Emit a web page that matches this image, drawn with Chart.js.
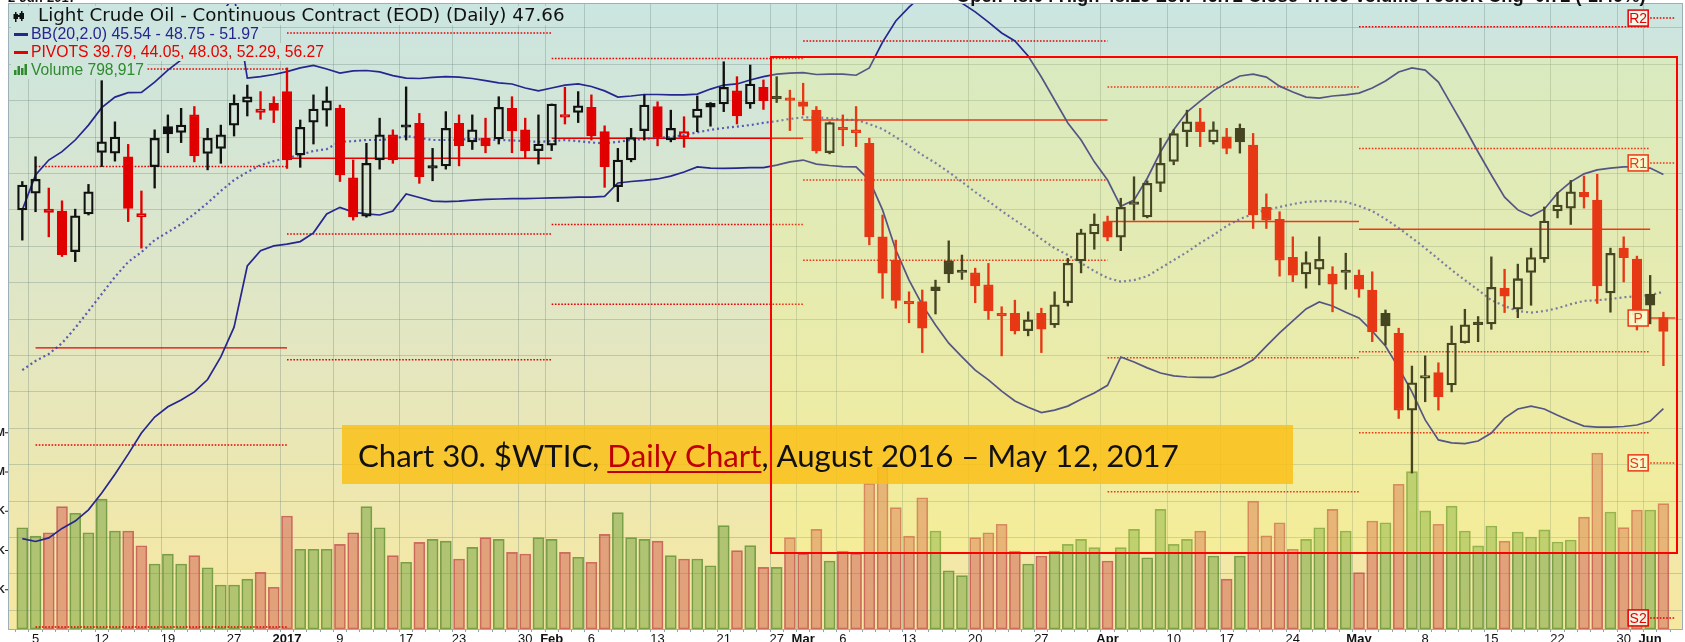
<!DOCTYPE html>
<html>
<head>
<meta charset="utf-8">
<script src="https://cdn.jsdelivr.net/npm/chart.js@4.4.1/dist/chart.umd.min.js"></script>
<style>
  html, body { margin: 0; padding: 0; background: #fff; }
  #wrap { width: 1685px; height: 642px; }
</style>
</head>
<body>
<div id="wrap"><canvas id="chart" width="1685" height="642"></canvas></div>
<script>
// trading sessions, Dec 2 2016 .. Jun 2 2017
const sessions = [
  '12/02','12/05','12/06','12/07','12/08','12/09','12/12','12/13','12/14','12/15','12/16','12/19','12/20','12/21','12/22','12/23','12/27','12/28','12/29','12/30',
  '01/03','01/04','01/05','01/06','01/09','01/10','01/11','01/12','01/13','01/17','01/18','01/19','01/20','01/23','01/24','01/25','01/26','01/27','01/30','01/31',
  '02/01','02/02','02/03','02/06','02/07','02/08','02/09','02/10','02/13','02/14','02/15','02/16','02/17','02/21','02/22','02/23','02/24','02/27','02/28',
  '03/01','03/02','03/03','03/06','03/07','03/08','03/09','03/10','03/13','03/14','03/15','03/16','03/17','03/20','03/21','03/22','03/23','03/24','03/27','03/28','03/29','03/30','03/31',
  '04/03','04/04','04/05','04/06','04/07','04/10','04/11','04/12','04/13','04/17','04/18','04/19','04/20','04/21','04/24','04/25','04/26','04/27','04/28',
  '05/01','05/02','05/03','05/04','05/05','05/08','05/09','05/10','05/11','05/12','05/15','05/16','05/17','05/18','05/19','05/22','05/23','05/24','05/25','05/26','05/30','05/31',
  '06/01','06/02'
];

const open = [
  51.00, 51.46, 51.02, 50.97, 49.85, 50.89, 52.58, 52.56, 52.46, 50.81, 52.19, 53.29, 53.13, 53.61, 52.55, 52.69, 53.33, 53.96, 53.68, 53.93,
  54.25, 52.51, 53.41, 53.74, 53.79, 51.88, 50.83, 52.37, 53.06, 53.33, 53.38, 52.20, 52.21, 53.38, 52.87, 52.97, 52.95, 53.79, 53.20, 52.63,
  52.78, 53.62, 53.68, 53.82, 53.15, 51.64, 52.37, 53.18, 53.84, 52.92, 52.99, 53.54, 53.93, 53.91, 54.27, 53.91, 54.37, 54.09, 54.03,
  53.97, 53.74, 52.57, 53.25, 53.20, 52.83, 50.26, 49.62, 48.48, 48.48, 48.78, 49.60, 49.33, 49.27, 48.94, 48.14, 48.16, 47.68, 48.16, 47.84, 48.45, 49.60, 50.34,
  50.68, 50.25, 51.20, 50.81, 51.73, 52.33, 53.15, 53.42, 52.87, 53.01, 53.24, 52.78, 51.07, 50.74, 49.70, 49.24, 49.37, 49.24, 49.33,
  49.21, 48.80, 48.16, 47.61, 45.50, 46.38, 46.53, 46.19, 47.35, 47.86, 47.87, 48.85, 48.27, 49.28, 49.65, 50.97, 51.05, 51.48, 51.27, 48.72, 49.95, 49.65,
  48.69, 48.04
];
const high = [
  51.78, 52.46, 51.60, 51.25, 51.02, 51.70, 54.55, 53.42, 52.80, 51.52, 53.20, 53.61, 53.79, 53.84, 53.24, 53.33, 54.16, 54.43, 54.25, 54.11,
  54.90, 53.47, 54.16, 54.38, 53.88, 52.37, 52.83, 53.52, 53.20, 54.38, 53.65, 52.69, 53.70, 53.61, 53.61, 53.52, 54.11, 54.11, 53.52, 53.61,
  53.91, 54.37, 54.25, 54.16, 53.31, 52.69, 53.24, 54.16, 53.97, 53.74, 53.56, 54.13, 53.95, 55.07, 54.66, 54.98, 54.57, 54.66, 54.29,
  54.48, 53.84, 53.42, 53.61, 53.84, 52.97, 50.86, 50.17, 48.75, 48.80, 49.07, 50.15, 49.76, 49.40, 49.53, 48.34, 48.52, 48.20, 48.30, 48.75, 49.67, 50.47, 50.89,
  50.83, 51.32, 51.91, 51.80, 52.97, 53.20, 53.74, 53.79, 53.42, 53.24, 53.36, 53.10, 51.44, 50.95, 50.26, 49.85, 50.26, 49.44, 49.81,
  49.35, 49.30, 48.25, 47.75, 46.71, 46.99, 46.80, 47.81, 48.27, 48.07, 49.71, 49.37, 49.51, 49.95, 51.08, 51.48, 51.81, 51.93, 51.98, 49.95, 50.26, 49.73,
  49.20, 48.19
];
const low = [
  50.17, 50.95, 50.26, 49.72, 49.58, 50.86, 52.19, 52.34, 50.68, 49.95, 51.60, 52.57, 52.85, 52.32, 52.10, 52.28, 53.03, 53.58, 53.49, 53.40,
  52.14, 52.17, 52.81, 53.30, 51.78, 50.72, 50.80, 52.12, 52.28, 52.92, 51.73, 51.80, 52.12, 52.21, 52.66, 52.57, 52.81, 52.57, 52.42, 52.26,
  52.63, 53.36, 53.40, 52.92, 51.62, 51.23, 52.32, 52.92, 52.76, 52.87, 52.72, 53.15, 53.30, 53.70, 53.36, 53.79, 53.76, 53.95, 53.18,
  53.61, 52.56, 52.54, 52.76, 52.74, 50.04, 48.57, 48.30, 47.90, 47.08, 48.14, 49.00, 49.09, 48.45, 47.99, 46.99, 47.59, 47.54, 47.08, 47.77, 48.36, 49.27, 49.92,
  50.15, 49.88, 50.72, 50.78, 51.50, 52.24, 52.74, 52.74, 52.81, 52.54, 52.56, 50.49, 50.49, 49.18, 49.03, 48.85, 48.94, 48.20, 48.82,
  48.60, 47.38, 47.29, 45.27, 43.77, 45.73, 45.50, 46.00, 47.34, 47.38, 47.72, 48.18, 48.04, 48.38, 49.56, 50.78, 50.60, 51.05, 48.43, 48.19, 49.02, 47.70,
  47.87, 46.72
];
const close = [
  51.68, 51.84, 50.93, 49.77, 50.84, 51.50, 52.87, 53.00, 51.04, 50.90, 52.97, 53.09, 53.33, 52.48, 52.97, 53.06, 53.93, 54.11, 53.77, 53.73,
  52.37, 53.27, 53.77, 54.00, 51.96, 50.81, 52.28, 53.06, 52.37, 53.27, 51.91, 52.15, 53.24, 52.76, 53.20, 52.76, 53.82, 53.17, 52.63, 52.81,
  53.91, 53.55, 53.86, 53.03, 52.19, 52.37, 52.99, 53.88, 52.99, 53.24, 53.15, 53.77, 53.82, 54.37, 53.58, 54.46, 54.00, 54.05, 54.01,
  53.84, 52.62, 53.40, 53.20, 53.12, 50.26, 49.26, 48.51, 48.42, 47.75, 48.89, 49.24, 49.28, 48.91, 48.23, 48.09, 47.68, 47.98, 47.72, 48.39, 49.53, 50.37, 50.61,
  50.25, 51.07, 51.15, 51.73, 52.28, 53.10, 53.42, 53.15, 53.20, 52.69, 52.87, 50.86, 50.72, 49.62, 49.21, 49.55, 49.64, 48.96, 49.28,
  48.82, 47.65, 47.81, 45.50, 46.25, 46.45, 45.87, 47.34, 47.84, 47.85, 48.87, 48.63, 49.11, 49.69, 50.69, 51.13, 51.50, 51.36, 48.91, 49.81, 49.69, 48.10,
  48.38, 47.66
];
// volume in thousands of contracts
const volumeK = [
  645, 592, 613, 779, 737, 613, 827, 624, 624, 530, 414, 477, 414, 467, 390, 280, 280, 318, 361, 266,
  720, 508, 508, 508, 539, 613, 779, 645, 467, 425, 552, 571, 560, 446, 520, 582, 571, 488, 478, 582,
  571, 488, 457, 425, 603, 741, 582, 571, 560, 467, 446, 446, 403, 658, 499, 531, 393, 393, 582,
  480, 635, 433, 497, 482, 928, 1030, 773, 592, 836, 624, 371, 340, 582, 613, 667, 497, 414, 465, 497, 539, 571, 518,
  433, 518, 635, 454, 762, 539, 571, 624, 465, 318, 465, 815, 594, 677, 508, 571, 645, 762, 624,
  359, 688, 677, 922, 1002, 752, 667, 783, 624, 529, 656, 560, 618, 586, 631, 554, 567, 713, 1121, 745, 646, 758,
  758, 798.917
];

// Bollinger Bands (20, 2.0)
const bbUpper = [
  51.00, 51.96, 52.37, 52.60, 52.92, 53.33, 53.81, 54.10, 54.22, 54.23, 54.51, 54.84, 55.12, 55.53, 55.94, 56.35, 56.90, 54.62, 54.66, 54.72,
  54.80, 54.90, 54.97, 54.87, 54.76, 54.82, 54.83, 54.79, 54.69, 54.62, 54.61, 54.64, 54.66, 54.65, 54.61, 54.55, 54.49, 54.46, 54.35, 54.27,
  54.35, 54.43, 54.46, 54.39, 54.27, 54.10, 54.13, 54.17, 54.17, 54.16, 54.16, 54.18, 54.32, 54.43, 54.46, 54.57, 54.66, 54.73, 54.76,
  54.77, 54.72, 54.73, 54.73, 54.70, 54.90, 55.61, 56.19, 56.57, 56.90, 57.04, 56.90, 56.68, 56.44, 56.16, 55.86, 55.64, 55.23, 54.65, 54.02, 53.39, 52.92, 52.32,
  51.82, 51.10, 51.27, 51.87, 52.59, 53.20, 53.69, 53.99, 54.27, 54.49, 54.68, 54.73, 54.65, 54.40, 54.24, 54.10, 54.07, 54.13, 54.16,
  54.21, 54.35, 54.54, 54.79, 54.90, 54.84, 54.51, 53.88, 53.25, 52.59, 51.96, 51.35, 51.00, 50.83, 51.02, 51.46, 51.77, 51.99, 52.10, 52.15, 52.18, 52.18,
  52.15, 51.97
];
const bbMiddle = [
  46.60, 46.85, 47.04, 47.34, 47.76, 48.22, 48.69, 49.16, 49.57, 49.84, 50.17, 50.39, 50.61, 50.89, 51.19, 51.52, 51.82, 52.04, 52.23, 52.34,
  52.43, 52.51, 52.62, 52.67, 52.87, 52.89, 52.92, 52.92, 52.95, 53.03, 52.98, 52.92, 52.92, 52.93, 52.95, 52.93, 52.92, 52.91, 52.89, 52.87,
  52.89, 52.92, 52.89, 52.85, 52.83, 52.87, 52.92, 52.95, 52.98, 53.00, 53.06, 53.13, 53.20, 53.25, 53.29, 53.33, 53.39, 53.44, 53.50,
  53.54, 53.54, 53.52, 53.48, 53.47, 53.36, 53.22, 53.00, 52.76, 52.51, 52.29, 52.04, 51.77, 51.49, 51.24, 50.97, 50.72, 50.48, 50.20, 49.95, 49.76, 49.54, 49.32,
  49.13, 49.03, 49.07, 49.18, 49.40, 49.62, 49.84, 50.09, 50.31, 50.56, 50.75, 50.89, 51.00, 51.08, 51.16, 51.22, 51.24, 51.24, 51.22,
  51.11, 50.97, 50.75, 50.50, 50.23, 49.95, 49.65, 49.35, 49.07, 48.80, 48.52, 48.36, 48.22, 48.18, 48.22, 48.30, 48.41, 48.50, 48.52, 48.55, 48.60, 48.63,
  48.66, 48.75
];
const bbLower = [
  41.97, 41.89, 41.99, 42.25, 42.45, 42.76, 43.22, 43.74, 44.29, 44.87, 45.31, 45.59, 45.78, 46.00, 46.34, 46.96, 47.78, 49.46, 49.88, 50.01,
  50.06, 50.13, 50.37, 50.89, 51.07, 50.94, 50.89, 50.86, 50.97, 51.44, 51.34, 51.24, 51.23, 51.24, 51.27, 51.29, 51.30, 51.31, 51.31, 51.32,
  51.33, 51.34, 51.35, 51.35, 51.37, 51.74, 51.78, 51.81, 51.85, 51.93, 52.04, 52.18, 52.15, 52.14, 52.15, 52.16, 52.16, 52.23, 52.32,
  52.37, 52.26, 52.22, 52.19, 52.18, 51.82, 51.00, 49.90, 49.07, 48.39, 47.84, 47.34, 46.96, 46.60, 46.33, 46.02, 45.75, 45.58, 45.43, 45.50, 45.61, 45.80, 45.97,
  46.18, 46.96, 46.82, 46.66, 46.52, 46.44, 46.41, 46.40, 46.40, 46.52, 46.68, 46.88, 47.26, 47.62, 47.95, 48.28, 48.47, 48.36, 48.19,
  48.03, 47.67, 47.26, 46.66, 46.00, 45.23, 44.68, 44.60, 44.58, 44.65, 44.87, 45.28, 45.53, 45.61, 45.53, 45.36, 45.20, 45.06, 45.03, 45.03, 45.05, 45.09,
  45.20, 45.54
];

// monthly pivot points: first session each level applies from
const pivotStart = ['12/05', '01/03', '02/01', '03/01', '04/03', '05/01', '06/01'];
const pivotR2 = [54.87, 57.97, 57.52, 57.29, 58.10, 56.03, 56.27];
const pivotR1 = [52.19, 55.86, 55.16, 55.64, 54.38, 52.69, 52.29];
const pivotP  = [47.21, 52.42, 52.97, 53.47, 50.68, 50.47, 48.03];
const pivotS1 = [44.54, 50.34, 50.60, 51.82, 46.94, 47.10, 44.05];
const pivotS2 = [39.54, 46.88, 48.41, 49.62, 43.26, 44.88, 39.79];

const tickDates  = ['12/05','12/12','12/19','12/27','01/03','01/09','01/17','01/23','01/30','02/01','02/06','02/13','02/21','02/27','03/01','03/06','03/13','03/20','03/27','04/03','04/10','04/17','04/24','05/01','05/08','05/15','05/22','05/30','06/01'];
const tickLabels = ['5','12','19','27','2017','9','17','23','30','Feb','6','13','21','27','Mar','6','13','20','27','Apr','10','17','24','May','8','15','22','30','Jun'];
const priceGrid = [40, 41, 42, 43, 44, 45, 46, 47, 48, 49, 50, 51, 52, 53, 54, 55, 56];
const volumeTicks = [250, 500, 750, 1000, 1250];
const volumeTickLabels = ['250K', '500K', '750K', '1M', '1.25M'];

const PRICE_MIN = 39.486, PRICE_MAX = 56.657;
const VOL_MAX = 3981;
const X_MIN = -0.5, X_MAX = 124.9;

const GRID = 'rgba(105,130,120,0.32)';
const RED = '#e60000';
const NAVY = '#26268f';

const tickText = {};
tickDates.forEach((d, k) => { tickText[sessions.indexOf(d)] = tickLabels[k]; });

const up = close.map((c, i) => i === 0 ? c >= open[i] : c >= close[i - 1]);
const candleColor = up.map(u => u ? '#111111' : '#e00000');
const candleFill = close.map((c, i) => c > open[i] ? 'rgba(0,0,0,0)' : candleColor[i]);

const datasets = [];

// candle bodies
datasets.push({
  type: 'bar', yAxisID: 'y', order: 10, grouped: false,
  data: sessions.map((_, i) => ({ x: i, y: [open[i], close[i]] })),
  backgroundColor: candleFill, borderColor: candleColor,
  borderWidth: 1.6, borderSkipped: false, barThickness: 9.5, minBarLength: 2.5
});
// wicks above and below the body
datasets.push({
  type: 'bar', yAxisID: 'y', order: 20, grouped: false,
  data: sessions.map((_, i) => ({ x: i, y: [Math.max(open[i], close[i]), high[i]] })),
  backgroundColor: candleColor, borderWidth: 0, barThickness: 1.7
});
datasets.push({
  type: 'bar', yAxisID: 'y', order: 20, grouped: false,
  data: sessions.map((_, i) => ({ x: i, y: [low[i], Math.min(open[i], close[i])] })),
  backgroundColor: candleColor, borderWidth: 0, barThickness: 1.7
});

// Bollinger Bands
[[bbUpper, []], [bbMiddle, [2, 3]], [bbLower, []]].forEach(([band, dash]) => {
  datasets.push({
    type: 'line', yAxisID: 'y', order: 30,
    data: band.map((v, i) => ({ x: i, y: v })),
    borderColor: dash.length ? 'rgba(55,55,170,0.8)' : NAVY,
    borderWidth: dash.length ? 2.2 : 1.7, borderDash: dash,
    pointRadius: 0, tension: 0
  });
});

// pivot segments, one per month and level
[[pivotR2, true], [pivotR1, true], [pivotP, false], [pivotS1, true], [pivotS2, true]].forEach(([level, dotted]) => {
  pivotStart.forEach((d, m) => {
    const from = sessions.indexOf(d);
    const to = m + 1 < pivotStart.length ? sessions.indexOf(pivotStart[m + 1]) : X_MAX;
    datasets.push({
      type: 'line', yAxisID: 'y', order: 40,
      data: [{ x: from, y: level[m] }, { x: to, y: level[m] }],
      borderColor: RED, borderWidth: dotted ? 1.5 : 1.4,
      borderDash: dotted ? [1.6, 1.6] : [],
      pointRadius: 0
    });
  });
});

// volume
datasets.push({
  type: 'bar', yAxisID: 'v', order: 50, grouped: false,
  data: sessions.map((_, i) => ({ x: i, y: volumeK[i] })),
  backgroundColor: up.map(u => u ? 'rgba(110,160,60,0.5)' : 'rgba(205,85,75,0.48)'),
  borderColor: up.map(u => u ? 'rgba(95,140,50,0.8)' : 'rgba(195,80,80,0.8)'),
  borderWidth: 1, borderSkipped: false, barThickness: 11
});

const backdrop = {
  id: 'backdrop',
  beforeDraw(chart) {
    const { ctx, chartArea: a } = chart;
    ctx.save();
    ctx.fillStyle = '#ffffff';
    ctx.fillRect(0, 0, chart.width, chart.height);
    const g = ctx.createLinearGradient(0, a.top, 0, a.bottom);
    g.addColorStop(0, '#cbe5e1');
    g.addColorStop(0.45, '#dfe6c7');
    g.addColorStop(1, '#f7e8a0');
    chart.$bg = g;
    ctx.fillStyle = g;
    ctx.fillRect(a.left, a.top, a.right - a.left, a.bottom - a.top);
    ctx.restore();
  }
};

function fitFont(ctx, text, weight, family, width) {
  ctx.font = `${weight} 20px ${family}`;
  const w = ctx.measureText(text).width;
  return `${weight} ${(20 * width / w).toFixed(2)}px ${family}`;
}

const overlay = {
  id: 'overlay',
  afterDraw(chart) {
    const { ctx, chartArea: a } = chart;
    const xs = chart.scales.x, ys = chart.scales.y, vs = chart.scales.v;
    const last = close.length - 1;
    ctx.save();

    // frame
    ctx.strokeStyle = '#9db0b8';
    ctx.lineWidth = 1;
    ctx.strokeRect(a.left - 0.5, a.top - 0.5, a.right - a.left + 1, a.bottom - a.top + 1);

    // current pivot tags
    const tagX = xs.getPixelForValue(sessions.indexOf(pivotStart[pivotStart.length - 1])) - 2;
    [['R2', pivotR2], ['R1', pivotR1], ['P', pivotP], ['S1', pivotS1], ['S2', pivotS2]].forEach(([name, lv]) => {
      const y = ys.getPixelForValue(lv[lv.length - 1]);
      const w = 20, h = 16;
      ctx.fillStyle = 'rgba(246,250,236,0.92)';
      ctx.fillRect(tagX - w, y - h / 2, w, h);
      ctx.strokeStyle = RED;
      ctx.lineWidth = 1.5;
      ctx.strokeRect(tagX - w, y - h / 2, w, h);
      ctx.fillStyle = RED;
      ctx.font = '14px "Liberation Sans Narrow", "Liberation Sans", sans-serif';
      ctx.textAlign = 'center';
      ctx.textBaseline = 'middle';
      ctx.fillText(name, tagX - w / 2, y + 1);
    });

    // legend rows sit on plain backdrop
    ctx.textAlign = 'left';
    ctx.textBaseline = 'alphabetic';
    ctx.fillStyle = chart.$bg;
    ctx.fillRect(11, 6, 557, 19);
    ctx.fillRect(11, 25, 251, 18);
    ctx.fillRect(11, 43, 316, 18);
    ctx.fillRect(11, 61, 136, 18);

    const title = `Light Crude Oil - Continuous Contract (EOD) (Daily) ${close[last].toFixed(2)}`;
    ctx.font = fitFont(ctx, title, 'normal', '"DejaVu Sans", Verdana, sans-serif', 527);
    ctx.fillStyle = '#111';
    ctx.fillText(title, 38, 21);
    // candle glyph
    ctx.fillRect(15, 12, 1.5, 10); ctx.fillRect(13.5, 14, 4.5, 5);
    ctx.fillRect(21, 11, 1.5, 10); ctx.fillRect(19.5, 13, 4.5, 6);
    ctx.fillRect(18, 15, 2, 2);

    const narrow = '"Liberation Sans Narrow", "Liberation Sans", sans-serif';
    const bbText = `BB(20,2.0) ${bbLower[last].toFixed(2)} - ${bbMiddle[last].toFixed(2)} - ${bbUpper[last].toFixed(2)}`;
    ctx.fillStyle = NAVY;
    ctx.fillRect(14, 33, 14, 3);
    ctx.font = fitFont(ctx, bbText, 'normal', narrow, 228);
    ctx.fillText(bbText, 31, 39);

    const pvText = 'PIVOTS ' + [pivotS2, pivotS1, pivotP, pivotR1, pivotR2].map(l => l[l.length - 1].toFixed(2)).join(', ');
    ctx.fillStyle = RED;
    ctx.fillRect(14, 51, 14, 3);
    ctx.font = fitFont(ctx, pvText, 'normal', narrow, 293);
    ctx.fillText(pvText, 31, 57);

    const volText = `Volume ${Math.round(volumeK[last] * 1000).toLocaleString('en-US')}`;
    ctx.fillStyle = '#2f8a2f';
    [[14, 70], [17.5, 66], [21, 68], [24.5, 64]].forEach(([x, t]) => ctx.fillRect(x, t, 2.5, 75 - t));
    ctx.font = fitFont(ctx, volText, 'normal', narrow, 113);
    ctx.fillText(volText, 31, 75);

    // quote line along the top edge
    const chg = close[last] - close[last - 1];
    const quote = `Open ${open[last].toFixed(2)} High ${high[last].toFixed(2)} Low ${low[last].toFixed(2)} Close ${close[last].toFixed(2)} Volume ${volumeK[last].toFixed(1)}K Chg ${chg.toFixed(2)} (${(chg / close[last - 1] * 100).toFixed(2)}%)`;
    ctx.fillStyle = '#111';
    ctx.font = fitFont(ctx, quote, 'bold', '"Liberation Sans", Arial, sans-serif', 690);
    ctx.fillText(quote, 956, 2);
    ctx.font = 'bold 13px "Liberation Sans", Arial, sans-serif';
    ctx.fillText('2-Jun-2017', 8, 2);

    // volume axis labels on the left edge
    ctx.font = 'bold 11px "Liberation Sans", Arial, sans-serif';
    ctx.textAlign = 'right';
    ctx.textBaseline = 'middle';
    volumeTicks.forEach((v, k) => {
      const y = vs.getPixelForValue(v);
      ctx.fillStyle = '#222';
      ctx.fillText(volumeTickLabels[k], 5, y);
      ctx.fillRect(5, y - 0.5, 3, 1);
    });

    // highlighted window
    const rx = 771, ry = 57, rw = 906, rh = 496;
    ctx.fillStyle = 'rgba(255,255,95,0.22)';
    ctx.fillRect(rx, ry, rw, rh);

    // caption
    ctx.fillStyle = 'rgba(250,192,22,0.84)';
    ctx.fillRect(342, 425, 951, 59);
    const parts = [['Chart 30. $WTIC, ', '#111'], ['Daily Chart', '#c00000'], [', August 2016 \u2013 May 12, 2017', '#111']];
    const capFamily = 'Lato, "Open Sans", sans-serif';
    ctx.font = `normal 20px ${capFamily}`;
    const total = parts.reduce((s, p) => s + ctx.measureText(p[0]).width, 0);
    ctx.font = `normal ${(20 * 821 / total).toFixed(2)}px ${capFamily}`;
    ctx.textAlign = 'left';
    ctx.textBaseline = 'alphabetic';
    let cx = 358;
    parts.forEach(([t, col], k) => {
      const w = ctx.measureText(t).width;
      ctx.fillStyle = col;
      ctx.fillText(t, cx, 467);
      if (k === 1) ctx.fillRect(cx, 471, w, 2);
      cx += w;
    });

    ctx.strokeStyle = '#ff0000';
    ctx.lineWidth = 2;
    ctx.strokeRect(rx, ry, rw, rh);
    ctx.restore();
  }
};

new Chart(document.getElementById('chart'), {
  type: 'bar',
  data: { datasets },
  options: {
    responsive: false,
    devicePixelRatio: 1,
    animation: false,
    layout: { padding: { left: 9, right: 3, top: 4, bottom: 0 } },
    plugins: { legend: { display: false }, tooltip: { enabled: false } },
    scales: {
      x: {
        type: 'linear', min: X_MIN, max: X_MAX,
        afterBuildTicks: s => { s.ticks = sessions.map((_, i) => ({ value: i })); },
        afterFit: s => { s.height = 13; },
        grid: {
          color: c => tickText[c.index] !== undefined ? GRID : 'rgba(0,0,0,0)',
          tickColor: '#8fa2ad', tickLength: 3, lineWidth: 1
        },
        border: { color: '#9fb2bb' },
        ticks: {
          autoSkip: false, maxRotation: 0, minRotation: 0, padding: 0,
          color: '#111',
          font: c => ({
            family: '"Liberation Sans", Arial, sans-serif', size: 13,
            weight: /^[A-Z]|^\d{4}$/.test(tickText[c.index] || '') ? 'bold' : 'normal'
          }),
          callback: (v, i) => tickText[i] || ''
        }
      },
      y: {
        type: 'linear', position: 'right', min: PRICE_MIN, max: PRICE_MAX,
        afterBuildTicks: s => { s.ticks = priceGrid.map(v => ({ value: v })); },
        afterFit: s => { s.width = 0; },
        ticks: { display: false },
        grid: { color: GRID, drawTicks: false },
        border: { display: false }
      },
      v: { type: 'linear', display: false, min: 0, max: VOL_MAX }
    }
  },
  plugins: [backdrop, overlay]
});
</script>
</body>
</html>
